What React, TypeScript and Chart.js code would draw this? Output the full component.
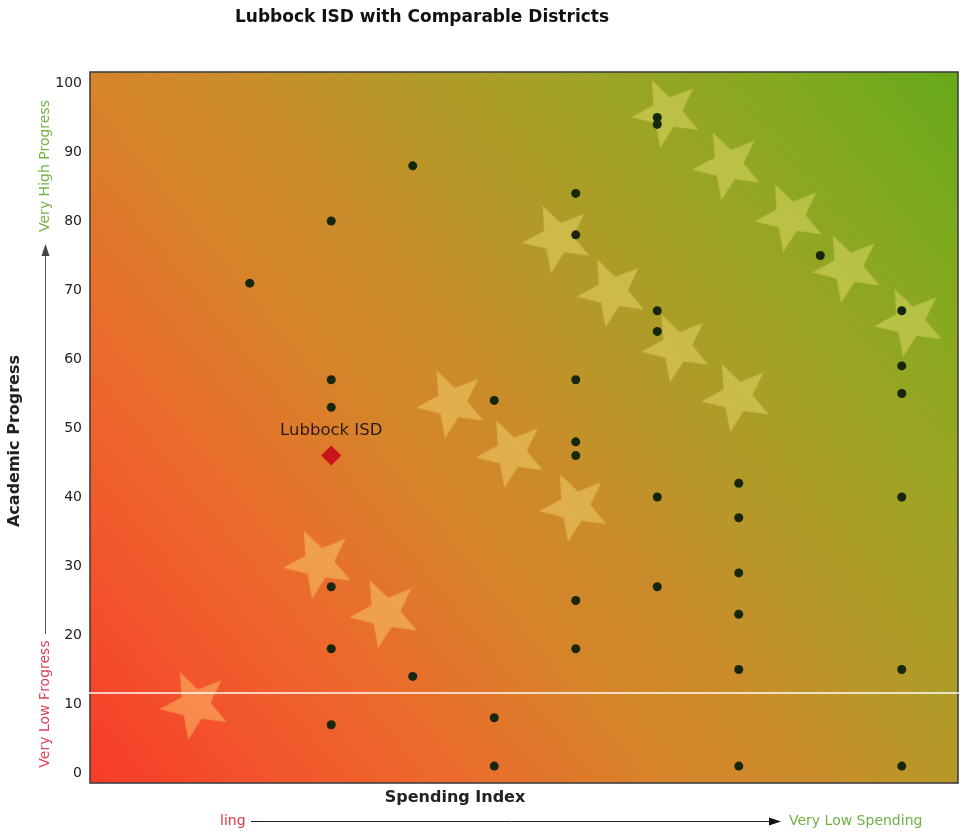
import React, { useEffect, useRef } from "react";
import { Chart, registerables } from "chart.js";

Chart.register(...registerables);

// ---- Data ----
const districtSpending = [2, 3, 3, 3, 3, 3, 3, 4, 4, 5, 5, 5, 6, 6, 6, 6, 6, 6, 6, 7, 7, 7, 7, 7, 7, 8, 8, 8, 8, 8, 8, 9, 10, 10, 10, 10, 10, 10];
const districtProgress = [71, 80, 57, 53, 27, 18, 7, 88, 14, 54, 8, 1, 84, 78, 57, 48, 46, 25, 18, 95, 94, 67, 64, 40, 27, 42, 37, 29, 23, 15, 1, 75, 67, 59, 55, 40, 15, 1];

const starSpending = [1.33, 2.85, 3.66, 4.48, 5.21, 5.99, 5.78, 6.45, 7.24, 7.98, 7.12, 7.87, 8.63, 9.34, 10.1];
const starProgress = [9.9, 30.4, 23.2, 53.6, 46.4, 38.6, 77.5, 69.7, 61.7, 54.5, 95.7, 88.1, 80.6, 73.2, 65.4];

const lubbockSpending = [3];
const lubbockProgress = [46];
const lubbockLabel = "Lubbock ISD";

const yTicks = [0, 10, 20, 30, 40, 50, 60, 70, 80, 90, 100];

const chartTitle = "Lubbock ISD with Comparable Districts";
const xTitle = "Spending Index";
const yTitle = "Academic Progress";
const yHighText = "Very High Progress";
const yLowText = "Very Low Progress";
const xLowText = "ling";
const xHighText = "Very Low Spending";

const W = 964;
const H = 835;

function makeStar(): HTMLCanvasElement {
  const size = 78;
  const c = document.createElement("canvas");
  c.width = size;
  c.height = size;
  const ctx = c.getContext("2d")!;
  const outer = 36;
  const inner = 15.5;
  const cx = size / 2;
  const cy = size / 2;
  ctx.beginPath();
  for (let i = 0; i < 10; i++) {
    const r = i % 2 === 0 ? outer : inner;
    const a = -Math.PI / 2 + (i * Math.PI) / 5;
    const x = cx + r * Math.cos(a);
    const y = cy + r * Math.sin(a);
    if (i === 0) ctx.moveTo(x, y);
    else ctx.lineTo(x, y);
  }
  ctx.closePath();
  ctx.fillStyle = "rgba(255, 240, 130, 0.37)";
  ctx.fill();
  return c;
}

const decorPlugin = {
  id: "decor",
  beforeDraw(chart: any) {
    const { ctx, chartArea } = chart;
    const { left, right, top, bottom } = chartArea;
    ctx.save();
    ctx.fillStyle = "#ffffff";
    ctx.fillRect(0, 0, chart.width, chart.height);
    const g = ctx.createLinearGradient(left, bottom, right, top);
    g.addColorStop(0, "#f73a28");
    g.addColorStop(0.12, "#f3532c");
    g.addColorStop(0.25, "#ec6a2c");
    g.addColorStop(0.4, "#d6842a");
    g.addColorStop(0.5, "#ca8c2a");
    g.addColorStop(0.6, "#b69828");
    g.addColorStop(0.75, "#9ca424");
    g.addColorStop(0.9, "#7eaa1e");
    g.addColorStop(1, "#66a81a");
    ctx.fillStyle = g;
    ctx.fillRect(left, top, right - left, bottom - top);
    ctx.strokeStyle = "#404040";
    ctx.lineWidth = 1.6;
    ctx.strokeRect(left, top, right - left, bottom - top);
    ctx.restore();
  },
  afterDraw(chart: any) {
    const { ctx, chartArea, scales } = chart;
    const { bottom } = chartArea;
    ctx.save();
    // title
    ctx.fillStyle = "#111";
    ctx.font = "bold 17px 'DejaVu Sans'";
    ctx.textAlign = "center";
    ctx.textBaseline = "middle";
    ctx.fillText(chartTitle, 422, 18);

    // x title
    ctx.font = "bold 16px 'DejaVu Sans'";
    ctx.fillStyle = "#222";
    ctx.fillText(xTitle, 455, bottom + 15);

    // y title
    ctx.save();
    ctx.translate(15, 441);
    ctx.rotate(-Math.PI / 2);
    ctx.fillText(yTitle, 0, 0);
    ctx.restore();

    // y side texts
    ctx.font = "14px 'DejaVu Sans'";
    ctx.save();
    ctx.translate(45, 166);
    ctx.rotate(-Math.PI / 2);
    ctx.fillStyle = "#74b446";
    ctx.fillText(yHighText, 0, 0);
    ctx.restore();
    ctx.save();
    ctx.translate(45, 704);
    ctx.rotate(-Math.PI / 2);
    ctx.fillStyle = "#e0405a";
    ctx.fillText(yLowText, 0, 0);
    ctx.restore();

    // vertical arrow
    ctx.strokeStyle = "#555";
    ctx.fillStyle = "#444";
    ctx.lineWidth = 1;
    ctx.beginPath();
    ctx.moveTo(45.5, 634);
    ctx.lineTo(45.5, 252);
    ctx.stroke();
    ctx.beginPath();
    ctx.moveTo(45.5, 244);
    ctx.lineTo(41.5, 256);
    ctx.lineTo(49.5, 256);
    ctx.closePath();
    ctx.fill();

    // bottom texts and arrow
    const ay = 821;
    ctx.textAlign = "left";
    ctx.fillStyle = "#e03545";
    ctx.fillText(xLowText, 220, ay);
    ctx.fillStyle = "#6cb244";
    ctx.fillText(xHighText, 789, ay);
    ctx.strokeStyle = "#222";
    ctx.beginPath();
    ctx.moveTo(251, ay + 0.5);
    ctx.lineTo(772, ay + 0.5);
    ctx.stroke();
    ctx.fillStyle = "#111";
    ctx.beginPath();
    ctx.moveTo(781, ay + 0.5);
    ctx.lineTo(769, ay - 3.5);
    ctx.lineTo(769, ay + 4.5);
    ctx.closePath();
    ctx.fill();

    // Lubbock label
    const lx = scales.x.getPixelForValue(lubbockSpending[0]);
    const ly = scales.y.getPixelForValue(lubbockProgress[0]);
    ctx.textAlign = "center";
    ctx.font = "16.5px 'DejaVu Sans'";
    ctx.fillStyle = "#2a1a10";
    ctx.fillText(lubbockLabel, lx, ly - 25);

    // scan line artifact
    ctx.strokeStyle = "rgba(255,255,255,0.95)";
    ctx.lineWidth = 1.5;
    ctx.beginPath();
    ctx.moveTo(40, 693);
    ctx.lineTo(W, 693);
    ctx.stroke();
    ctx.restore();
  },
};

export default function App() {
  const ref = useRef<HTMLCanvasElement | null>(null);
  useEffect(() => {
    document.body.style.margin = "0";
    document.body.style.overflow = "hidden";
    document.documentElement.style.overflow = "hidden";
    const star = makeStar();
    const chart = new Chart(ref.current!, {
      type: "scatter",
      data: {
        datasets: [
          {
            label: "Lubbock ISD",
            data: lubbockSpending.map((x, i) => ({ x, y: lubbockProgress[i] })),
            pointStyle: "rectRot",
            pointRadius: 10,
            backgroundColor: "#c8141a",
            borderColor: "#c8141a",
            borderWidth: 0,
            order: 1,
          },
          {
            label: "Districts",
            data: districtSpending.map((x, i) => ({ x, y: districtProgress[i] })),
            pointStyle: "circle",
            pointRadius: 4.5,
            backgroundColor: "#16270e",
            borderColor: "#16270e",
            borderWidth: 0,
            order: 2,
          },
          {
            label: "Stars",
            data: starSpending.map((x, i) => ({ x, y: starProgress[i] })),
            pointStyle: star as any,
            pointRotation: -25,
            pointRadius: 36,
            order: 3,
          },
        ],
      },
      options: {
        animation: false,
        responsive: false,
        devicePixelRatio: 1,
        events: [],
        layout: { autoPadding: false, padding: { top: 72, right: 6, left: 0, bottom: 0 } },
        plugins: { legend: { display: false }, title: { display: false }, tooltip: { enabled: false } },
        scales: {
          x: {
            type: "linear",
            min: 0.04,
            max: 10.69,
            grid: { display: false },
            border: { display: false },
            ticks: { display: false },
            afterFit(scale: any) {
              scale.height = 52;
            },
          },
          y: {
            type: "linear",
            min: -1.45,
            max: 101.6,
            grid: { display: false, drawTicks: false },
            border: { display: false },
            ticks: {
              padding: 8,
              color: "#222",
              font: { family: "'DejaVu Sans'", size: 14 },
            },
            afterBuildTicks(scale: any) {
              scale.ticks = yTicks.map((v) => ({ value: v }));
            },
            afterFit(scale: any) {
              scale.width = 90;
            },
          },
        },
      },
      plugins: [decorPlugin],
    });
    return () => chart.destroy();
  }, []);
  return (
    <div style={{ width: W, height: H, position: "relative" }}>
      <canvas ref={ref} width={W} height={H} style={{ display: "block", width: W, height: H }} />
    </div>
  );
}
